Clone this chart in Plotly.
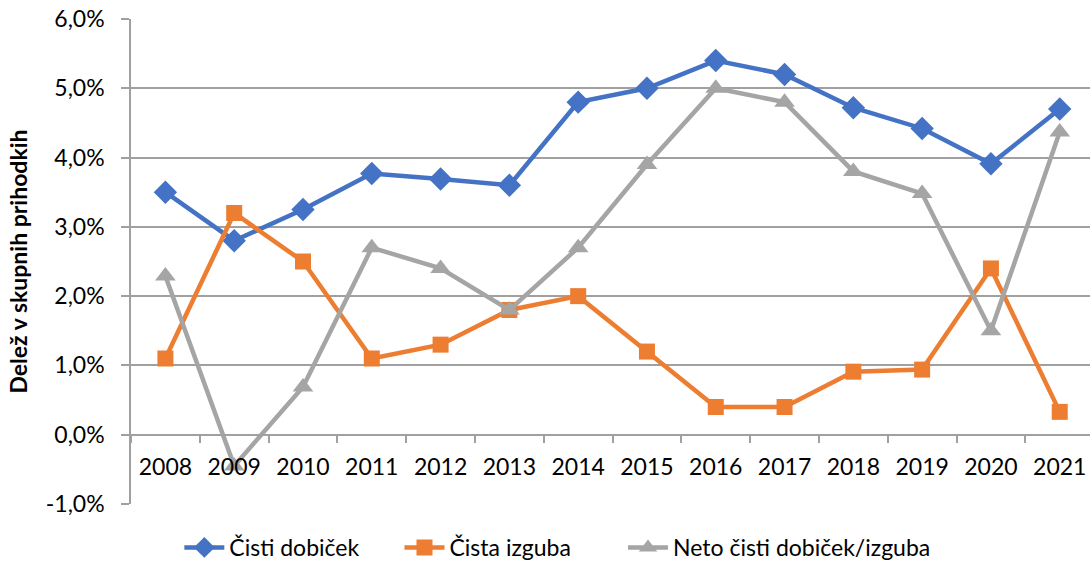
import plotly.graph_objects as go

years = ["2008", "2009", "2010", "2011", "2012", "2013", "2014", "2015", "2016", "2017", "2018", "2019", "2020", "2021"]
cisti_dobicek = [3.5, 2.8, 3.25, 3.77, 3.69, 3.6, 4.8, 5.0, 5.4, 5.2, 4.72, 4.42, 3.91, 4.7]
cista_izguba = [1.1, 3.2, 2.5, 1.1, 1.3, 1.8, 2.0, 1.2, 0.4, 0.4, 0.91, 0.94, 2.4, 0.33]
neto = [2.29, -0.45, 0.69, 2.7, 2.4, 1.8, 2.7, 3.9, 5.0, 4.8, 3.8, 3.48, 1.5, 4.37]
series_names = ["Čisti dobiček", "Čista izguba", "Neto čisti dobiček/izguba"]
y_ticks = [-1, 0, 1, 2, 3, 4, 5, 6]
y_ticktext = ["-1,0%", "0,0%", "1,0%", "2,0%", "3,0%", "4,0%", "5,0%", "6,0%"]

FONT = "Lato"
W, H = 1090, 569
T, B = 19, 0
plot_h = H - T - B
dom_bottom = (H - 504) / plot_h
zero_pos = dom_bottom + (1 - dom_bottom) / 7
PADS = ["\u00a0" * 6, "\u00a0" * 8, ""]

fig = go.Figure()
styles = [
    ("#4472C4", "diamond", 18),
    ("#ED7D31", "square", 16),
    ("#A5A5A5", "triangle-up", 18),
]
for name, pad, vals, (col, sym, sz) in zip(series_names, PADS, [cisti_dobicek, cista_izguba, neto], styles):
    fig.add_trace(go.Scatter(
        x=years, y=vals, name=name + pad, mode="lines+markers",
        line=dict(color=col, width=4.5),
        marker=dict(symbol=sym, size=sz, color=col),
    ))

fig.update_layout(
    width=W, height=H,
    margin=dict(l=131, r=0, t=T, b=B),
    paper_bgcolor="white", plot_bgcolor="white",
    font=dict(family=FONT, size=23, color="#000000"),
    showlegend=True,
    legend=dict(orientation="h", x=0.0504, xanchor="left",
                y=0.0, yanchor="bottom",
                font=dict(size=23, family=FONT), itemwidth=40, traceorder="normal",
                bgcolor="rgba(0,0,0,0)"),
    xaxis=dict(
        type="category", range=[-0.5, 13.44],
        anchor="free", position=zero_pos, automargin=False,
        showline=True, linecolor="#A0A0A0", linewidth=1.5,
        ticks="outside", tickson="boundaries", ticklen=8, tickcolor="#A0A0A0", tickwidth=1.5,
        showgrid=False, tickfont=dict(size=23, family=FONT),
        ticklabelstandoff=12,
    ),
    yaxis=dict(
        domain=[dom_bottom, 1],
        range=[-1, 6], tickvals=y_ticks, ticktext=y_ticktext, automargin=False,
        showline=True, linecolor="#A0A0A0", linewidth=1.5,
        ticks="outside", ticklen=8, tickcolor="#A0A0A0", tickwidth=1.5,
        showgrid=True, gridcolor="#A0A0A0", gridwidth=1.5,
        zeroline=False,
        tickfont=dict(size=23, family=FONT),
        ticklabelstandoff=12,
        title=dict(text="<b>Delež v skupnih prihodkih</b>", font=dict(size=23, family=FONT), standoff=12),
    ),
)
fig.write_html("out.html", config={"displayModeBar": False},
               post_script="document.body.style.margin='0px';document.body.style.overflow='hidden';")
